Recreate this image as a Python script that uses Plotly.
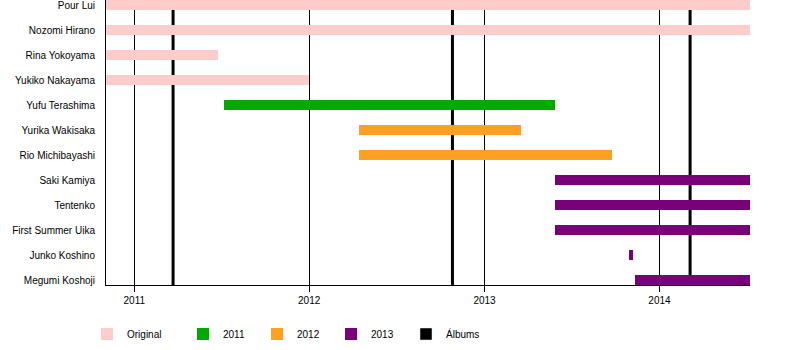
import pandas as pd
import plotly.graph_objects as go

# ---- data ----
members = ["Pour Lui", "Nozomi Hirano", "Rina Yokoyama", "Yukiko Nakayama",
           "Yufu Terashima", "Yurika Wakisaka", "Rio Michibayashi", "Saki Kamiya",
           "Tentenko", "First Summer Uika", "Junko Koshino", "Megumi Koshoji"]
starts = ["2010-11-03", "2010-11-03", "2010-11-03", "2010-11-03",
          "2011-07-07", "2012-04-14", "2012-04-14", "2013-05-27",
          "2013-05-27", "2013-05-27", "2013-10-30", "2013-11-10"]
ends = ["2014-07-09", "2014-07-09", "2011-06-25", "2011-12-31",
        "2013-05-29", "2013-03-19", "2013-09-25", "2014-07-09",
        "2014-07-09", "2014-07-09", "2013-11-07", "2014-07-09"]
groups = ["Original", "Original", "Original", "Original",
          "2011", "2012", "2012", "2013", "2013", "2013", "2013", "2013"]
album_dates = ["2011-03-23", "2012-10-26", "2014-03-06"]
legend_order = ["Original", "2011", "2012", "2013", "Álbums"]
group_colors = {"Original": "#FFCCCC", "2011": "#00AA00", "2012": "#FFA020",
                "2013": "#780078", "Álbums": "#000000"}
year_ticks = ["2011-01-01", "2012-01-01", "2013-01-01", "2014-01-01"]
tick_text = ["2011", "2012", "2013", "2014"]
x_range = ["2010-11-03", "2014-07-09"]

# ---- layout constants ----
W, H = 800, 350
ML, MR, MT, MB = 106, 50, 0, 65
PW, PH = W - ML - MR, H - MT - MB
legend_square_left = [101, 197, 271, 345, 420]

fig = go.Figure()
font = dict(family="Liberation Sans, Arial, sans-serif", size=10, color="black")

df = pd.DataFrame({"member": members, "start": pd.to_datetime(starts),
                   "end": pd.to_datetime(ends), "group": groups})
df["dur"] = (df["end"] - df["start"]).dt.total_seconds() * 1000

for i, g in enumerate(legend_order):
    lname = "legend" if i == 0 else f"legend{i+1}"
    sub = df[df["group"] == g]
    if len(sub):
        fig.add_trace(go.Bar(
            y=sub["member"], x=sub["dur"], base=sub["start"].dt.strftime("%Y-%m-%d"),
            orientation="h", width=0.4, name=g, legend=lname,
            marker=dict(color=group_colors[g], line=dict(width=0)),
            hoverinfo="skip"))
    else:
        fig.add_trace(go.Bar(y=[None], x=[None], orientation="h", name=g,
                             legend=lname, marker=dict(color=group_colors[g])))

for d in album_dates:
    fig.add_shape(type="line", xref="x", yref="paper", x0=d, x1=d, y0=0, y1=1,
                  line=dict(color="black", width=3), layer="below")

legends = {}
for i, g in enumerate(legend_order):
    lname = "legend" if i == 0 else f"legend{i+1}"
    x0 = legend_square_left[i] - 14
    legends[lname] = dict(x=(x0 - ML) / PW, xanchor="left",
                          y=(MT + PH - 334 + 0) / PH - 1 + 0, yanchor="middle",
                          orientation="h", font=font, bgcolor="rgba(0,0,0,0)",
                          borderwidth=0)
# fix legend y: pixel 334 from top -> paper coordinate
for k in legends:
    legends[k]["y"] = (PH + MT - 334) / PH

fig.update_layout(
    width=W, height=H, margin=dict(l=ML, r=MR, t=MT, b=MB),
    plot_bgcolor="white", paper_bgcolor="white", font=font,
    showlegend=True, barmode="overlay", bargap=0,
    xaxis=dict(type="date", range=x_range, tickvals=year_ticks, ticktext=tick_text,
               showgrid=True, gridcolor="black", gridwidth=1,
               showline=True, linecolor="black", linewidth=1,
               ticks="outside", ticklen=6, tickcolor="black", tickwidth=1,
               zeroline=False, tickfont=font),
    yaxis=dict(type="category", categoryorder="array", categoryarray=members,
               range=[11.18, -0.2], autorange=False,
               showgrid=False, showline=True, linecolor="black", linewidth=1,
               ticks="", ticklabelstandoff=8, zeroline=False, tickfont=font),
    **legends,
)

fig.write_html("out.html")
